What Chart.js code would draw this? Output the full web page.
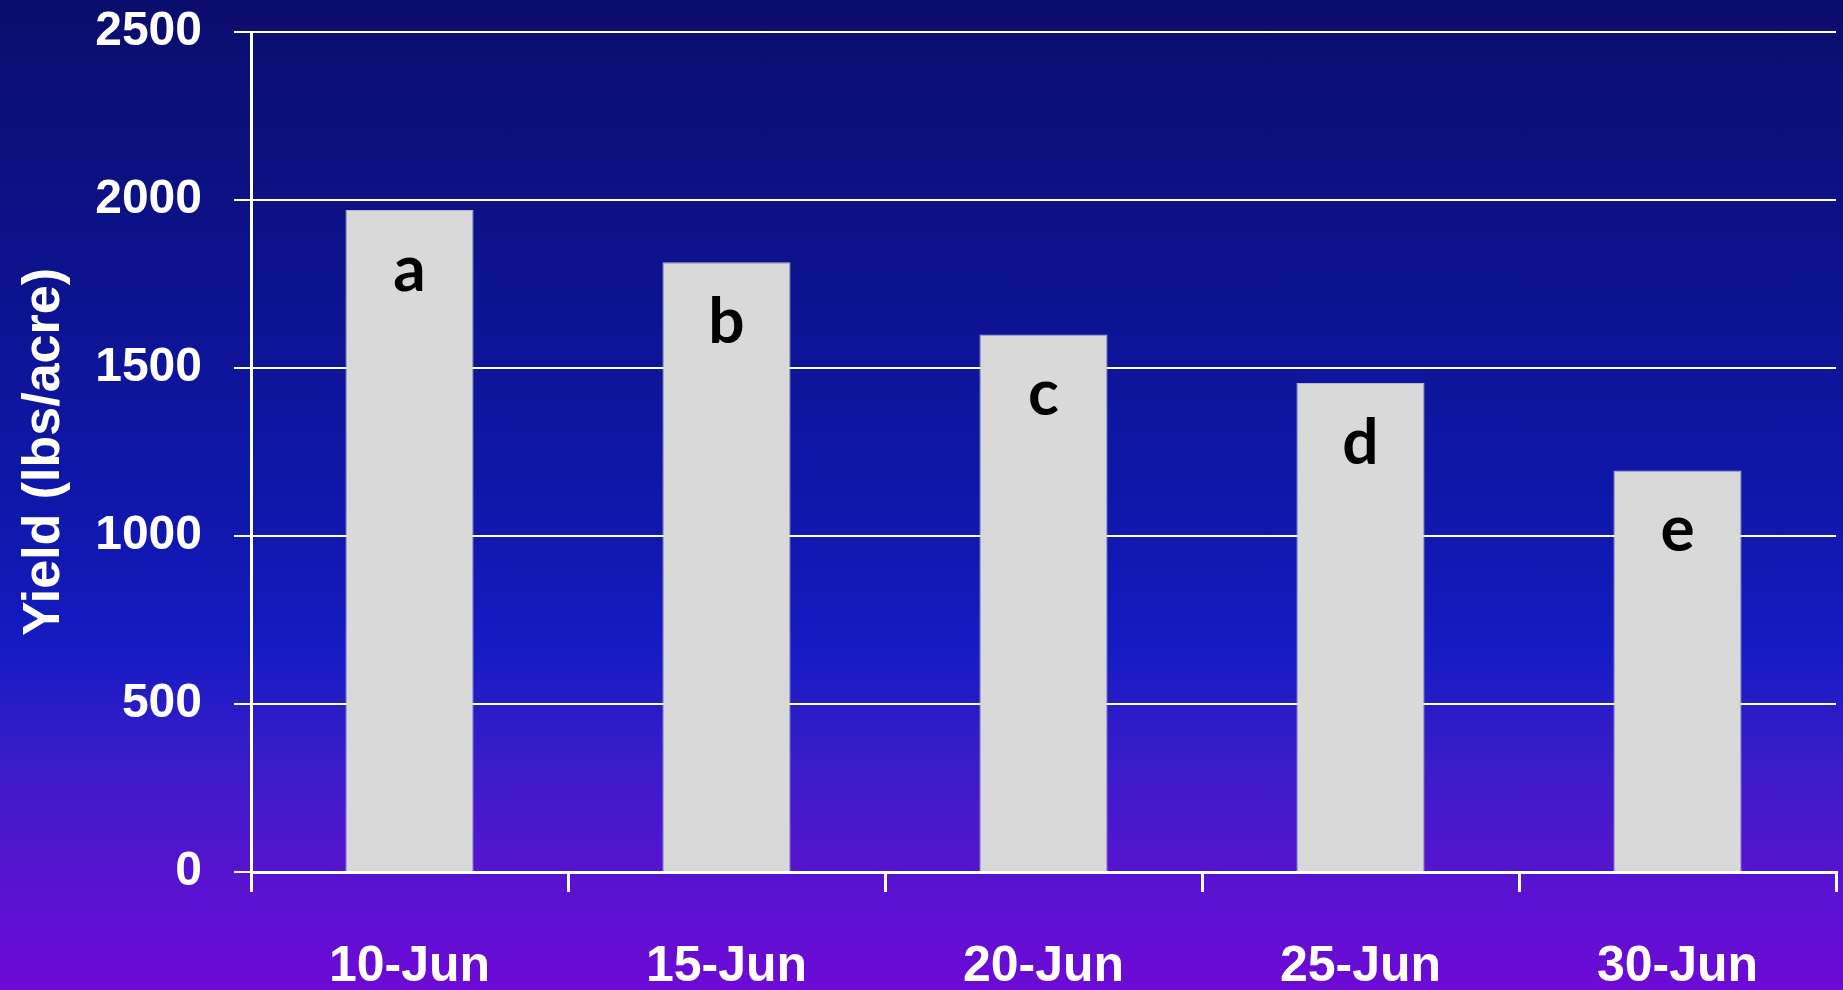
<!DOCTYPE html>
<html lang="en">
<head>
    <meta charset="UTF-8">
    <title>Yield by planting date</title>
    <script src="https://cdn.jsdelivr.net/npm/chart.js"></script>
    <style>
        html, body {
            margin: 0;
            padding: 0;
            overflow: hidden;
        }
        .wrap {
            width: 1843px;
            height: 990px;
            background: linear-gradient(to bottom,
                #0b0d6c 0%, #0c1390 30%, #1018b0 55%, #161cc3 66%,
                #3a1cc9 77%, #5614cf 88%, #6d0ad6 100%);
        }
        canvas {
            display: block;
        }
    </style>
</head>
<body>
    <div class="wrap">
        <canvas id="yieldChart" width="1843" height="990"></canvas>
    </div>

    <script>
        // data
        var dates = ['10-Jun', '15-Jun', '20-Jun', '25-Jun', '30-Jun'];
        var yieldValues = [1970, 1815, 1600, 1455, 1195];
        var groupLetters = ['a', 'b', 'c', 'd', 'e'];
        var yTicks = [0, 500, 1000, 1500, 2000, 2500];

        var axisFont = '"Liberation Sans Narrow", "Liberation Sans", Arial, sans-serif';

        // letters drawn inside the top of each bar
        var letterPlugin = {
            id: 'letters',
            afterDatasetsDraw: function(chart) {
                var ctx = chart.ctx;
                var meta = chart.getDatasetMeta(0);
                ctx.save();
                ctx.fillStyle = '#000';
                ctx.font = 'bold 64px Lato, "Open Sans", sans-serif';
                ctx.textAlign = 'center';
                ctx.textBaseline = 'alphabetic';
                meta.data.forEach(function(bar, i) {
                    ctx.fillText(groupLetters[i], bar.x, bar.y + 81);
                });
                ctx.restore();
            }
        };

        var ctx = document.getElementById('yieldChart').getContext('2d');
        var chart = new Chart(ctx, {
            type: 'bar',
            data: {
                labels: dates,
                datasets: [{
                    data: yieldValues,
                    backgroundColor: '#d9d9d9',
                    borderColor: '#b4b6d8',
                    borderWidth: 1,
                    categoryPercentage: 1,
                    barPercentage: 0.404
                }]
            },
            options: {
                responsive: false,
                animation: false,
                devicePixelRatio: 1,
                layout: {
                    padding: { top: 32, right: 7, left: 0, bottom: 0 }
                },
                plugins: {
                    legend: { display: false },
                    tooltip: { enabled: false }
                },
                scales: {
                    x: {
                        offset: true,
                        grid: {
                            offset: true,
                            drawOnChartArea: false,
                            drawTicks: true,
                            tickLength: 20,
                            color: '#ffffff',
                            lineWidth: 3
                        },
                        border: { color: '#ffffff', width: 3 },
                        ticks: {
                            color: '#ffffff',
                            padding: 45,
                            maxRotation: 0,
                            font: { family: axisFont, size: 50, weight: 'bold' }
                        },
                        afterFit: function(scale) {
                            scale.height = 118;
                        }
                    },
                    y: {
                        min: 0,
                        max: 2500,
                        afterBuildTicks: function(scale) {
                            scale.ticks = yTicks.map(function(v) { return { value: v }; });
                        },
                        grid: {
                            color: '#ffffff',
                            lineWidth: 2,
                            tickLength: 17
                        },
                        border: { color: '#ffffff', width: 3 },
                        ticks: {
                            color: '#ffffff',
                            padding: 32,
                            font: { family: axisFont, size: 48, weight: 'bold' },
                            callback: function(value) {
                                return String(value);
                            }
                        },
                        title: {
                            display: true,
                            text: 'Yield (lbs/acre)',
                            color: '#ffffff',
                            padding: { top: 19, bottom: 0 },
                            font: { family: axisFont, size: 52, weight: 'bold', lineHeight: 1 }
                        },
                        afterFit: function(scale) {
                            scale.width = 251;
                            // the layout padding already leaves room for the top label
                            scale.paddingTop = 0;
                            scale.paddingBottom = 0;
                        }
                    }
                }
            },
            plugins: [letterPlugin]
        });
    </script>
</body>
</html>
